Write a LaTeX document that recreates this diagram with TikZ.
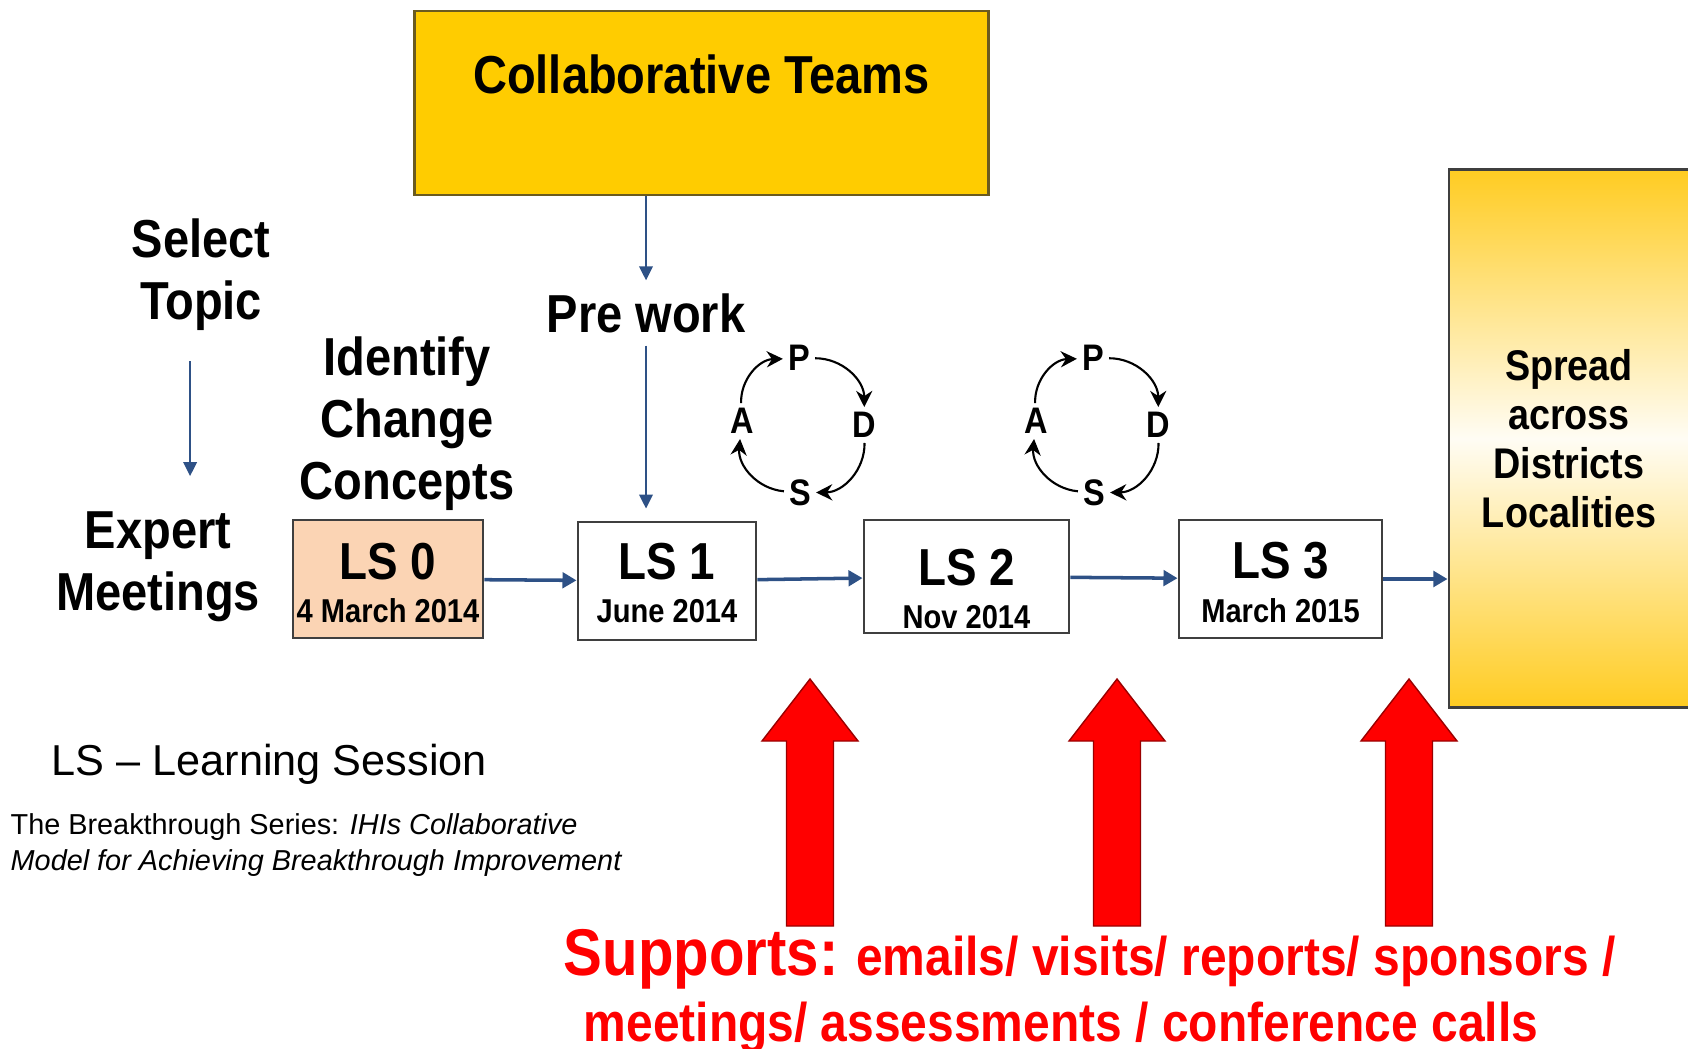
\documentclass[tikz,border=0pt]{standalone}
\usepackage{fontspec}
\setmainfont{Liberation Sans}
\newfontfamily\narrowsf[FakeStretch=0.88]{Liberation Sans}
\usepackage{xcolor}
\definecolor{teamgold}{HTML}{FFCC00}
\definecolor{teamedge}{HTML}{6B5B1F}
\definecolor{spreadgold}{HTML}{FFCC22}
\definecolor{peach}{HTML}{FBD4B4}
\definecolor{boxedge}{HTML}{3F3F3F}
\definecolor{flowblue}{HTML}{2E5186}
\definecolor{supportred}{HTML}{FF0000}
\definecolor{supportedge}{HTML}{9A0000}
\usepackage{tikz}
\usetikzlibrary{arrows.meta}

\newcommand{\lblfont}{\narrowsf\bfseries\fontsize{15.2}{17.6}\selectfont}
\newcommand{\lsfont}{\narrowsf\bfseries\fontsize{14.8}{12.4}\selectfont}
\newcommand{\datefont}{\narrowsf\bfseries\fontsize{9.4}{12.4}\selectfont}

\begin{document}
\begin{tikzpicture}[x=0.01cm, y=0.01cm,
  lbl/.style={font=\lblfont, align=center, inner sep=3.5pt},
  teambox/.style={draw=teamedge, line width=0.8pt, fill=teamgold, font=\lblfont,
    inner sep=0pt, minimum width=5.73cm, text height=0.82cm, text depth=1.02cm},
  lsbox/.style={draw=boxedge, line width=0.8pt, fill=white, align=center,
    inner sep=0pt, text depth=0pt, font=\lsfont},
  spreadbox/.style={draw=boxedge, line width=0.8pt, top color=spreadgold,
    bottom color=spreadgold, middle color=white!95!spreadgold, align=center,
    inner sep=0pt, minimum width=2.4cm, minimum height=5.37cm,
    font=\narrowsf\bfseries\fontsize{12.2}{13.9}\selectfont},
  flow/.style={draw=flowblue, line width=1pt, -{Triangle[length=4pt, width=4.4pt]}},
  drop/.style={draw=flowblue, line width=0.7pt, -{Triangle[length=4pt, width=3.8pt]}},
  pdsa/.style={font=\narrowsf\bfseries\fontsize{10.5}{12}\selectfont, inner sep=1.3pt},
  turn/.style={line width=0.6pt, -{Stealth[length=4.6pt, width=4.6pt]}, bend left=45},
  support/.style={fill=supportred, draw=supportedge, line width=0.4pt},
  supporttext/.style={anchor=base west, inner sep=0pt, text=supportred,
    font=\narrowsf\bfseries\fontsize{15.5}{18}\selectfont}]
  \useasboundingbox (0,0) rectangle (1688,-1048);

  % Teams and preparation
  \node[teambox] (team) at (701.5,-103) {Collaborative Teams};
  \node[lbl] (topic) at (201,-275) {Select\\Topic};
  \node[lbl] (expert) at (158,-567) {Expert\\Meetings};
  \node[lbl] (concepts) at (407,-424) {Identify\\Change\\Concepts};
  \node[lbl] (prework) at (646,-313) {Pre work};

  % Learning sessions
  \node[lsbox, fill=peach, minimum width=1.9cm, minimum height=1.18cm, text height=25pt] (ls0) at (388,-579) {LS 0\\\datefont 4 March 2014};
  \node[lsbox, minimum width=1.78cm, minimum height=1.18cm, text height=23.8pt] (ls1) at (667,-581) {LS 1\\\datefont June 2014};
  \node[lsbox, minimum width=2.05cm, minimum height=1.13cm, text height=29.8pt] (ls2) at (966.5,-576.5) {LS 2\\\datefont Nov 2014};
  \node[lsbox, minimum width=2.03cm, minimum height=1.18cm, text height=24.5pt] (ls3) at (1280.5,-579) {LS 3\\\datefont March 2015};
  \node[spreadbox] (spread) at (1569,-438.5) {Spread\\across\\Districts\\Localities};

  % Connectors
  \coordinate (topicdrop) at ([xshift=-3.1pt]topic.south);
  \draw[drop, shorten <=5pt, shorten >=6.5pt] (topicdrop) -- (topicdrop |- expert.north);
  \draw[drop] (team.south -| prework.south) -- (prework.north);
  \draw[drop, shorten >=3.4pt] (prework.south) -- (prework.south |- ls1.north);
  \draw[flow] (ls0) -- (ls1);
  \draw[flow] (ls1) -- (ls2);
  \draw[flow] (ls2) -- (ls3);
  \draw[flow] (ls3) -- (ls3 -| spread.west);

  % PDSA cycles
  \foreach \c/\cx in {1/802, 2/1096} {
    \node[pdsa] (P\c) at (\cx-3,-358) {P};
    \node[pdsa] (D\c) at (\cx+62,-425) {D};
    \node[pdsa] (S\c) at (\cx-2,-493) {S};
    \node[pdsa] (A\c) at (\cx-60,-421) {A};
    \draw[turn] (A\c) to (P\c);
    \draw[turn] (P\c) to (D\c);
    \draw[turn] (D\c) to (S\c);
    \draw[turn] (S\c) to (A\c);
  }

  % Support arrows
  \foreach \ax in {810,1117,1409}
    \draw[support] (\ax-23.5,-926) -- (\ax-23.5,-741) -- (\ax-48,-741) -- (\ax,-679)
      -- (\ax+48,-741) -- (\ax+23.5,-741) -- (\ax+23.5,-926) -- cycle;

  % Legend and source
  \node[anchor=base west, inner sep=0pt, font=\fontsize{12.3}{14}\selectfont] (legend) at (51,-775) {LS -- Learning Session};
  \node[anchor=north west, inner sep=0pt, align=left, font=\fontsize{8.2}{10.2}\selectfont] (source) at (10,-813)
    {The Breakthrough Series: \textit{IHIs Collaborative}\\\textit{Model for Achieving Breakthrough Improvement}};

  % Supports
  \node[supporttext] (supports) at (563,-975) {{\fontsize{18.8}{20}\selectfont Supports:} emails/ visits/ reports/ sponsors /};
  \node[supporttext] (supportsmore) at (583,-1041) {meetings/ assessments / conference calls};
\end{tikzpicture}
\end{document}
